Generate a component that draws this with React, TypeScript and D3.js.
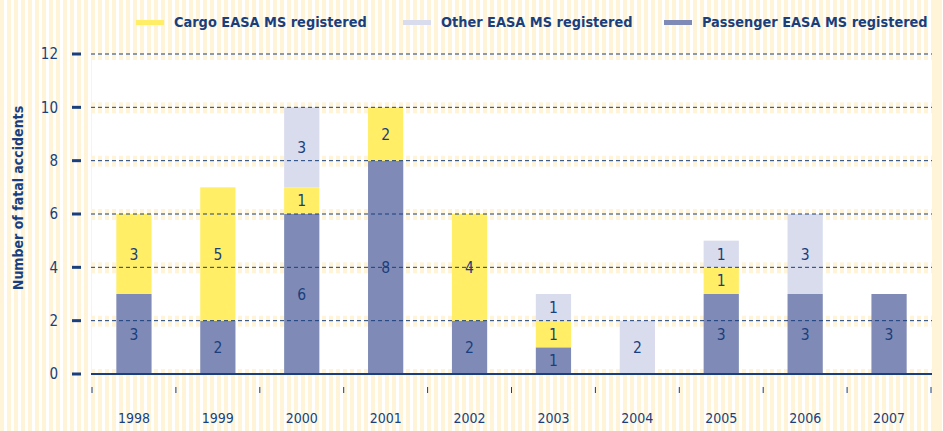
import React from "react";
import * as d3 from "d3";

const years = ["1998", "1999", "2000", "2001", "2002", "2003", "2004", "2005", "2006", "2007"];
const passenger = [3, 2, 6, 8, 2, 1, 0, 3, 3, 3];
const cargo = [3, 5, 1, 2, 4, 1, 0, 1, 0, 0];
const other = [0, 0, 3, 0, 0, 1, 2, 1, 3, 0];
const yTicks = [0, 2, 4, 6, 8, 10, 12];

const seriesKeys = ["passenger", "cargo", "other"];
const seriesColors: Record<string, string> = {
  passenger: "#7f8bb6",
  cargo: "#ffee66",
  other: "#d9dced",
};
const legendItems = [
  { key: "cargo", label: "Cargo EASA MS registered", x: 136 },
  { key: "other", label: "Other EASA MS registered", x: 403 },
  { key: "passenger", label: "Passenger EASA MS registered", x: 664 },
];

const W = 943;
const H = 431;
const NAVY = "#1a3f7c";
const FONT = "'DejaVu Sans Condensed', 'DejaVu Sans', sans-serif";

export default function App() {
  const left = 91;
  const right = 932;
  const y = d3.scaleLinear().domain([0, 12]).range([374, 54]);
  const x = d3
    .scaleBand<string>()
    .domain(years)
    .range([92, 931])
    .paddingInner(0.58)
    .paddingOuter(0.29);
  const step = x.step();

  const table = years.map((yr, i) => ({
    year: yr,
    passenger: passenger[i],
    cargo: cargo[i],
    other: other[i],
  }));
  const stack = d3.stack<any>().keys(seriesKeys);
  const stacked = stack(table);

  const bands: { y0: number; y1: number }[] = [];
  for (let i = 1; i < yTicks.length; i++) {
    bands.push({ y0: y(yTicks[i]) + 6, y1: y(yTicks[i - 1]) - 5 });
  }

  const sepX = years.map((_, i) => x.range()[0] + i * step).concat([x.range()[1]]);

  return (
    <svg width={W} height={H} style={{ position: "absolute", left: 0, top: 0 }}>
      <defs>
        <pattern id="stripes" width={7} height={10} patternUnits="userSpaceOnUse">
          <rect x={0} y={0} width={7} height={10} fill="#ffffff" />
          <rect x={0} y={0} width={4} height={10} fill="#fff4d8" />
        </pattern>
      </defs>
      <rect x={0} y={0} width={W} height={H} fill="url(#stripes)" />
      <rect x={934} y={0} width={5} height={H} fill="#fff4d8" />
      {bands.map((b, i) => (
        <rect key={i} x={left + 1} y={b.y0} width={right - left - 1} height={b.y1 - b.y0} fill="#ffffff" />
      ))}

      {/* bars */}
      {stacked.map((s) =>
        s.map((d, i) => {
          const v = d[1] - d[0];
          if (v <= 0) return null;
          const x0 = x(years[i]) as number;
          const yt = y(d[1]);
          const yb = y(d[0]);
          return (
            <rect
              key={s.key + i}
              x={x0}
              y={yt}
              width={x.bandwidth()}
              height={yb - yt}
              fill={seriesColors[s.key]}
            />
          );
        })
      )}

      {/* gridlines */}
      {yTicks
        .filter((t) => t > 0)
        .map((t) => (
          <line
            key={t}
            x1={left}
            x2={right}
            y1={y(t)}
            y2={y(t)}
            stroke={NAVY}
            strokeWidth={1}
            strokeDasharray="4,3"
          />
        ))}

      {/* bar labels */}
      {stacked.map((s) =>
        s.map((d, i) => {
          const v = d[1] - d[0];
          if (v <= 0) return null;
          const cx = (x(years[i]) as number) + x.bandwidth() / 2;
          const cy = (y(d[0]) + y(d[1])) / 2;
          return (
            <text
              key={"t" + s.key + i}
              x={cx}
              y={cy}
              dy="0.36em"
              textAnchor="middle"
              fontFamily={FONT}
              fontSize={15.5}
              fill={NAVY}
            >
              {v}
            </text>
          );
        })
      )}

      {/* x axis */}
      <line x1={left} x2={right} y1={y(0)} y2={y(0)} stroke={NAVY} strokeWidth={2} />
      {sepX.map((sx, i) => (
        <line key={"sx" + i} x1={sx} x2={sx} y1={387} y2={393} stroke={NAVY} strokeWidth={1} />
      ))}
      {years.map((yr) => (
        <text
          key={"yl" + yr}
          x={(x(yr) as number) + x.bandwidth() / 2}
          y={423}
          textAnchor="middle"
          fontFamily={FONT}
          fontSize={14}
          fill={NAVY}
        >
          {yr}
        </text>
      ))}

      {/* y axis */}
      {yTicks.map((t) => (
        <g key={"yt" + t}>
          <line x1={72} x2={81} y1={y(t)} y2={y(t)} stroke={NAVY} strokeWidth={3} />
          <text
            x={58}
            y={y(t)}
            dy="0.36em"
            textAnchor="end"
            fontFamily={FONT}
            fontSize={15}
            fill={NAVY}
          >
            {t}
          </text>
        </g>
      ))}
      <text
        transform={`translate(23,198) rotate(-90)`}
        textAnchor="middle"
        fontFamily={FONT}
        fontSize={14}
        fontWeight="bold"
        fill={NAVY}
      >
        Number of fatal accidents
      </text>

      {/* legend */}
      {legendItems.map((l) => (
        <g key={l.key}>
          <rect x={l.x} y={20} width={28} height={5} fill={seriesColors[l.key]} />
          <text
            x={l.x + 38}
            y={27}
            fontFamily={FONT}
            fontSize={14.4}
            fontWeight="bold"
            fill={NAVY}
          >
            {l.label}
          </text>
        </g>
      ))}
    </svg>
  );
}
